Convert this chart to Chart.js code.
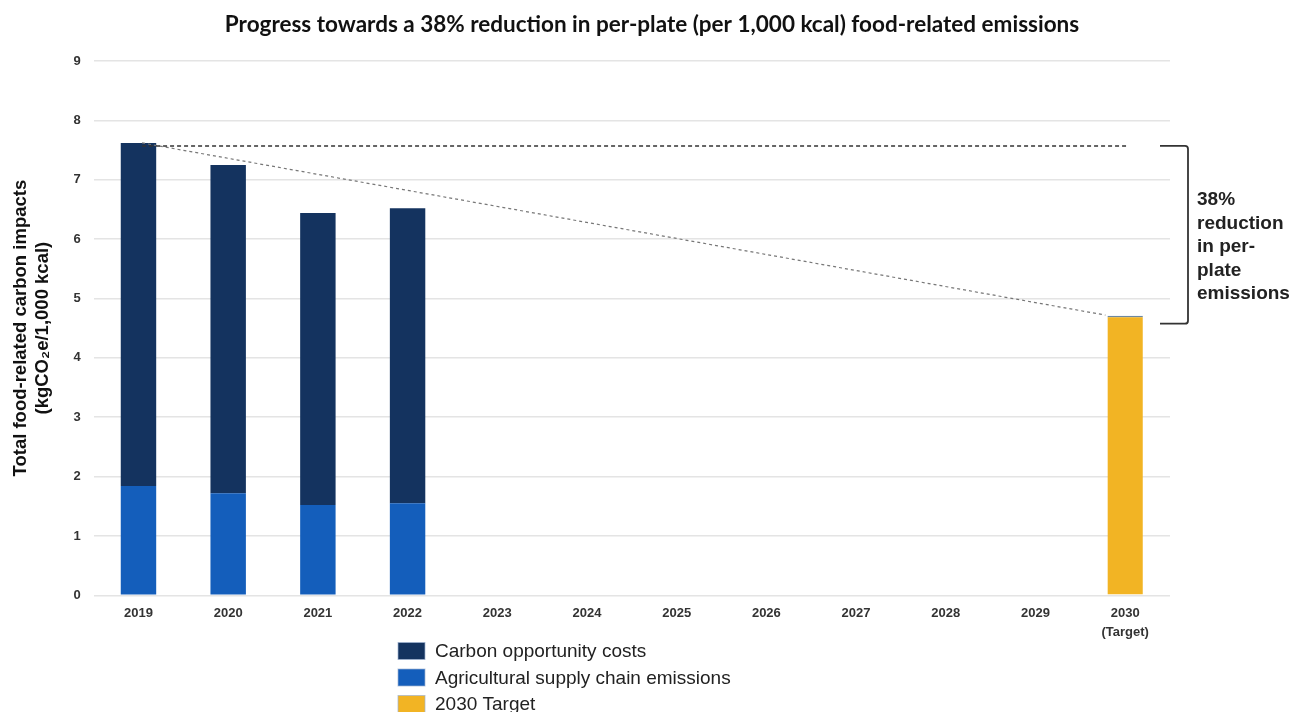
<!DOCTYPE html>
<html>
<head>
<meta charset="utf-8">
<script src="https://cdn.jsdelivr.net/npm/chart.js@4"></script>
<style>
html,body{margin:0;padding:0;background:#fff;}
#wrap{width:1294px;height:712px;position:relative;}
</style>
</head>
<body>
<div id="wrap"><canvas id="c" width="1294" height="712"></canvas></div>
<script>
// ---- data ----
const categories = ["2019","2020","2021","2022","2023","2024","2025","2026","2027","2028","2029",["2030","(Target)"]];
const agriculturalSupplyChain = [1.84, 1.72, 1.52, 1.55, null, null, null, null, null, null, null, null];
const carbonOpportunityCosts  = [5.78, 5.53, 4.92, 4.97, null, null, null, null, null, null, null, null];
const target2030              = [null, null, null, null, null, null, null, null, null, null, null, 4.71];
const baselineValue = 7.57;   // 2019 baseline (dashed horizontal)
const baselineStart = 7.62;   // start of trajectory
const targetValue = 4.71;     // 2030 target
const yTicks = [0,1,2,3,4,5,6,7,8,9];
const bracketLines = ["38%","reduction","in per-","plate","emissions"];
const legendOrder = [1, 0, 2];

const NAVY = "#14335F", BLUE = "#145EBB", GOLD = "#F2B424";
const lastIdx = categories.length - 1;
const SANS = "'Liberation Sans', Arial, sans-serif";

const bracketPlugin = {
  id: "bracket",
  afterDatasetsDraw(chart) {
    const ctx = chart.ctx, y = chart.scales.y, ca = chart.chartArea;
    const top = y.getPixelForValue(baselineValue);
    const bot = y.getPixelForValue(targetValue) + 8;
    const x0 = ca.right - 10, x1 = ca.right + 18;
    ctx.save();
    ctx.strokeStyle = "#333"; ctx.lineWidth = 1.8;
    ctx.beginPath();
    ctx.moveTo(x0, top); ctx.lineTo(x1 - 3, top);
    ctx.quadraticCurveTo(x1, top, x1, top + 3);
    ctx.lineTo(x1, bot - 3);
    ctx.quadraticCurveTo(x1, bot, x1 - 3, bot);
    ctx.lineTo(x0, bot);
    ctx.stroke();
    ctx.fillStyle = "#222";
    ctx.font = "bold 19px " + SANS;
    ctx.textBaseline = "middle"; ctx.textAlign = "left";
    const mid = (top + bot) / 2 + 12;
    const lh = 23.5;
    bracketLines.forEach((t, i) => {
      ctx.fillText(t, ca.right + 27, mid + (i - (bracketLines.length - 1) / 2) * lh);
    });
    ctx.restore();
  }
};

const legendPlugin = {
  id: "stackLegend",
  afterDraw(chart) {
    const ctx = chart.ctx;
    ctx.save();
    ctx.font = "19px " + SANS;
    ctx.textBaseline = "middle"; ctx.textAlign = "left";
    legendOrder.forEach((di, i) => {
      const ds = chart.data.datasets[di];
      const cy = 651 + i * 26.5;
      ctx.fillStyle = ds.backgroundColor;
      ctx.fillRect(398, cy - 8.5, 27, 17);
      ctx.strokeStyle = "rgba(160,180,210,0.7)"; ctx.lineWidth = 1;
      ctx.strokeRect(398, cy - 8.5, 27, 17);
      ctx.fillStyle = "#222";
      ctx.fillText(ds.label, 435, cy + 1);
    });
    ctx.restore();
  }
};

new Chart(document.getElementById("c"), {
  type: "bar",
  data: {
    labels: categories,
    datasets: [
      { type: "bar", label: "Agricultural supply chain emissions", data: agriculturalSupplyChain, backgroundColor: BLUE, stack: "s", xAxisID: "x", yAxisID: "y", order: 2 },
      { type: "bar", label: "Carbon opportunity costs", data: carbonOpportunityCosts, backgroundColor: NAVY, stack: "s", xAxisID: "x", yAxisID: "y", order: 2 },
      { type: "bar", label: "2030 Target", data: target2030, backgroundColor: GOLD, stack: "s", xAxisID: "x", yAxisID: "y", order: 2,
        borderColor: "#6d88a0", borderWidth: { top: 1.5, right: 0, bottom: 0, left: 0 }, borderSkipped: false },
      { type: "line", label: "baseline", xAxisID: "xl", yAxisID: "yl", stack: "l1",
        data: [{x: 0.04, y: baselineValue}, {x: lastIdx + 0.01, y: baselineValue}],
        borderColor: "#333", borderWidth: 1.5, borderDash: [4, 3], pointRadius: 0, order: 1 },
      { type: "line", label: "trajectory", xAxisID: "xl", yAxisID: "yl", stack: "l2",
        data: [{x: 0.04, y: baselineStart}, {x: lastIdx - 0.22, y: targetValue + 0.01}],
        borderColor: "#777", borderWidth: 1.2, borderDash: [3, 3], pointRadius: 0, order: 1 }
    ]
  },
  options: {
    responsive: false,
    animation: false,
    layout: { padding: { left: 10, right: 0, top: 0, bottom: 69 } },
    datasets: { bar: { barPercentage: 1, categoryPercentage: 0.395, grouped: false } },
    plugins: {
      legend: { display: false },
      tooltip: { enabled: false },
      title: {
        display: true,
        text: "Progress towards a 38% reduction in per-plate (per 1,000 kcal) food-related emissions",
        font: { family: "Lato, 'Open Sans', sans-serif", size: 22.5, weight: "bold" },
        color: "#111",
        padding: { top: 11, bottom: 23 }
      }
    },
    scales: {
      x: {
        stacked: true,
        grid: { display: false },
        border: { display: false },
        ticks: { color: "#333", font: { family: SANS, size: 13, weight: "bold", lineHeight: 1.45 }, padding: 1, maxRotation: 0, autoSkip: false }
      },
      y: {
        stacked: true,
        min: 0, max: 9,
        afterBuildTicks(scale) { scale.ticks = yTicks.map(v => ({ value: v })); },
        grid: { color: "#e4e4e4", lineWidth: 1.5, drawTicks: false },
        border: { display: false },
        ticks: { color: "#333", font: { family: SANS, size: 13, weight: "bold" }, padding: 13 },
        title: {
          display: true,
          text: ["Total food-related carbon impacts", "(kgCO\u2082e/1,000 kcal)"],
          color: "#111",
          font: { family: SANS, size: 18.5, weight: "bold", lineHeight: 1.2 },
          padding: { top: 0, bottom: 6 }
        }
      },
      yr: {
        type: "linear", position: "right", display: true, min: 0, max: 9,
        grid: { display: false }, border: { display: false }, ticks: { display: false },
        afterFit(s) { s.width = 124; }
      },
      xl: { type: "linear", display: false, offset: false, min: -0.5, max: lastIdx + 0.5 },
      yl: { type: "linear", display: false, min: 0, max: 9, stacked: false }
    }
  },
  plugins: [bracketPlugin, legendPlugin]
});
</script>
</body>
</html>
